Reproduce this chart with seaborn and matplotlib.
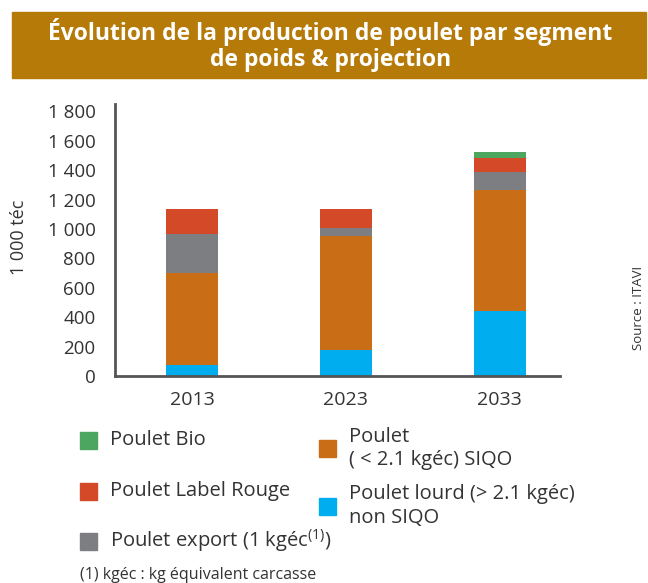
import matplotlib.pyplot as plt
import seaborn as sns
import numpy as np
import pandas as pd
from matplotlib.patches import Rectangle

years = ["2013", "2023", "2033"]
lourd_non_siqo = [72, 180, 442]
siqo_light = [627, 775, 824]
export = [270, 50, 124]
label_rouge = [164, 128, 90]
bio = [0, 0, 45]

segments = ["Poulet lourd (> 2.1 kgéc)\nnon SIQO", "Poulet\n( < 2.1 kgéc) SIQO",
            "Poulet export (1 kgéc$^{(1)}$)", "Poulet Label Rouge", "Poulet Bio"]
colors = ["#00AEEF", "#C96D17", "#7D7E82", "#D44A28", "#4DA660"]
yticks = [0, 200, 400, 600, 800, 1000, 1200, 1400, 1600, 1800]
ytick_labels = ["0", "200", "400", "600", "800", "1 000", "1 200", "1 400", "1 600", "1 800"]

df = pd.DataFrame({"year": years, "s0": lourd_non_siqo, "s1": siqo_light,
                   "s2": export, "s3": label_rouge, "s4": bio})
cum = df[["s0", "s1", "s2", "s3", "s4"]].cumsum(axis=1)

sns.set_style("white")
plt.rcParams["font.family"] = ["Open Sans", "DejaVu Sans"]
plt.rcParams["mathtext.fontset"] = "custom"
plt.rcParams["mathtext.rm"] = "Open Sans"
txt = "#333333"

fig = plt.figure(figsize=(6.48, 5.83), dpi=100)
ax = fig.add_axes([0.1775, 0.355, 0.6865, 0.4666])

# stacked bars: draw cumulative totals from top layer down
for i in range(4, -1, -1):
    sns.barplot(x=df["year"], y=cum[f"s{i}"], color=colors[i], width=0.34,
                saturation=1, linewidth=0, ax=ax)

ax.set_xlim(-0.5, 2.39)
ax.set_ylim(0, 1850)
ax.set_yticks(yticks)
ax.set_yticklabels(ytick_labels)
ax.set_xlabel("")
ax.set_ylabel("1 000 téc", fontsize=13, color=txt)
ax.yaxis.set_label_coords(-0.195, 0.51)
sns.despine(ax=ax)
for s in ["left", "bottom"]:
    ax.spines[s].set_color("#555555")
    ax.spines[s].set_linewidth(2)
ax.tick_params(axis="y", length=0, pad=14, labelsize=13.5, labelcolor=txt)
ax.tick_params(axis="x", which="major", length=0, pad=11, labelsize=14, labelcolor=txt)
ax.set_xticks([-0.5, 0.5, 1.5], minor=True)
ax.tick_params(axis="x", which="minor", length=5, width=2, color="#555555")

# title banner
fig.patches.append(Rectangle((0.0185, 0.866), 0.978, 0.113, transform=fig.transFigure,
                             color="#B57A08", zorder=0))
fig.text(0.51, 0.923, "Évolution de la production de poulet par segment\nde poids & projection",
         ha="center", va="center", color="white", fontsize=16.5, fontweight="bold",
         linespacing=1.15)

fig.text(0.985, 0.472, "Source : ITAVI", rotation=90, ha="center", va="center",
         fontsize=9.5, color=txt)

# legend
sq = 17 / 648
sqh = 17 / 583
leg = [(4, 80, 440), (3, 80, 491), (2, 80, 541), (1, 319, 448), (0, 319, 506)]
for idx, px, py in leg:
    fig.patches.append(Rectangle((px / 648, 1 - (py + 8.5) / 583), sq, sqh,
                                 transform=fig.transFigure, color=colors[idx]))
for idx, px, py in leg:
    fig.text((px + 30) / 648, 1 - py / 583, segments[idx], ha="left", va="center",
             fontsize=14.5, color=txt, linespacing=1.2)

fig.text(80 / 648, 1 - 575 / 583, "(1) kgéc : kg équivalent carcasse", ha="left",
         va="center", fontsize=11.5, color=txt)

fig.savefig("out.png", dpi=100)
